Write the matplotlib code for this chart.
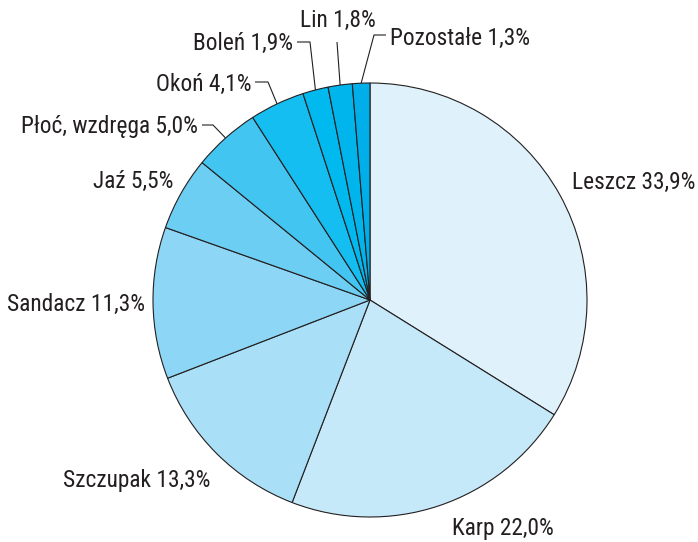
import numpy as np
import matplotlib
matplotlib.use("Agg")
import matplotlib.pyplot as plt

# share of catch by species (%), clockwise from the top
species = ["Leszcz", "Karp", "Szczupak", "Sandacz", "Jaź",
           "Płoć, wzdręga", "Okoń", "Boleń", "Lin", "Pozostałe"]
shares = [33.9, 22.0, 13.3, 11.3, 5.5, 5.0, 4.1, 1.9, 1.8, 1.3]
labels = ["Leszcz 33,9%", "Karp 22,0%", "Szczupak 13,3%", "Sandacz 11,3%",
          "Jaź 5,5%", "Płoć, wzdręga 5,0%", "Okoń 4,1%", "Boleń 1,9%",
          "Lin 1,8%", "Pozostałe 1,3%"]
colors = ["#dff2fb", "#c6e9f9", "#aadff8", "#8dd6f5", "#6dcef3",
          "#42c6f1", "#14bef0", "#00b9ee", "#00b4ec", "#00aeea"]

W, H = 698, 542
CX, CY, R = 370, 300, 217  # pixel coords, y from top


def py(y):
    return H - y


plt.rcParams["font.family"] = ["Roboto Condensed", "Archivo Narrow", "DejaVu Sans"]

fig = plt.figure(figsize=(W / 100, H / 100), dpi=100)
ax = fig.add_axes([0, 0, 1, 1])

ax.pie(shares, colors=colors, startangle=90, counterclock=False,
       center=(CX, py(CY)), radius=R,
       wedgeprops=dict(edgecolor="#231f20", linewidth=0.8))
# pie() resets the limits, so set them afterwards
ax.set_xlim(0, W)
ax.set_ylim(0, H)
ax.set_aspect("equal")
ax.axis("off")

# text placement: (x, y, ha) ; leader elbow (x, y) or None
layout = {
    "Leszcz": ((572, 182, "left"), None),
    "Karp": ((452, 528, "left"), None),
    "Szczupak": ((210, 480, "right"), None),
    "Sandacz": ((145, 304, "right"), None),
    "Jaź": ((173, 181, "right"), None),
    "Płoć, wzdręga": ((198, 127, "right"), [(202, 125), (213, 125)]),
    "Okoń": ((252, 84, "right"), [(255, 82), (268, 82)]),
    "Boleń": ((293, 43, "right"), [(297, 42), (310, 42)]),
    "Lin": ((338, 20, "center"), [(337, 42)]),
    "Pozostałe": ((390, 38, "left"), [(386, 35), (374, 35)]),
}

total = sum(shares)
cum = np.cumsum([0] + shares[:-1])
for name, lab, v, c0 in zip(species, labels, shares, cum):
    (tx, ty, ha), elbow = layout[name]
    ax.text(tx, py(ty), lab, ha=ha, va="center", fontsize=16.8, color="#231f20")
    if elbow:
        ang = np.deg2rad(90 - 360 * (c0 + v / 2) / total)
        ex, ey = CX + R * np.cos(ang), CY - R * np.sin(ang)
        pts = elbow + [(ex, ey)]
        ax.plot([p[0] for p in pts], [py(p[1]) for p in pts],
                color="#231f20", lw=0.8, solid_capstyle="butt")

fig.savefig("out.png", dpi=100)
